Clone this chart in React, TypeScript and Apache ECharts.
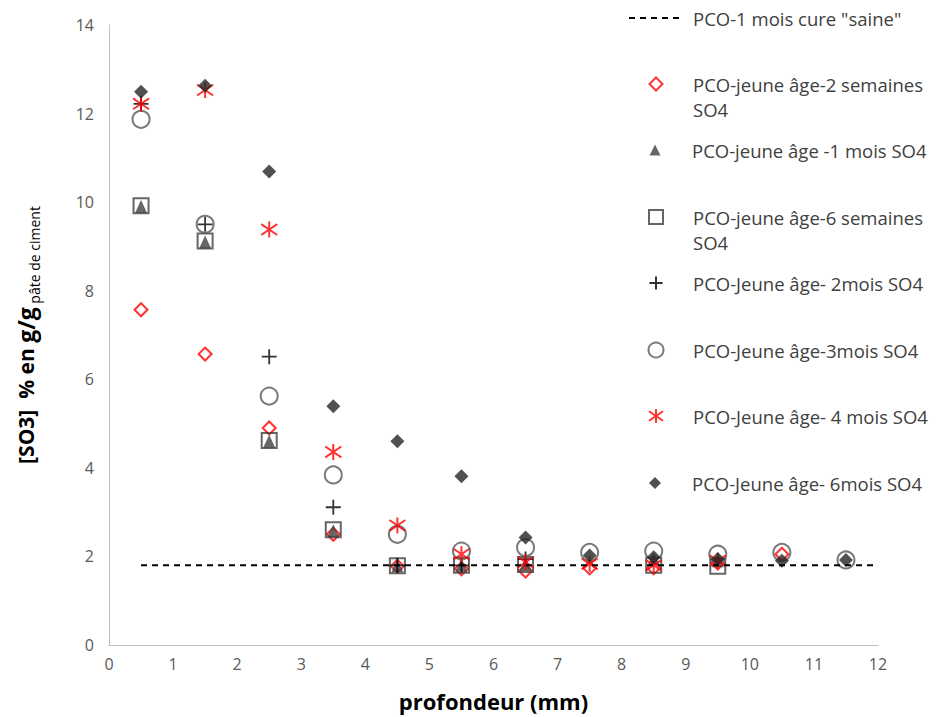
import React, { useEffect, useRef } from "react";
import * as echarts from "echarts";

const depth = [0.5, 1.5, 2.5, 3.5, 4.5, 5.5, 6.5, 7.5, 8.5, 9.5, 10.5, 11.5];
const sainX = [0.5, 12];
const sainY = 1.8;
const s2sem = [7.57, 6.57, 4.9, 2.5, 1.78, 1.72, 1.67, 1.74, 1.74, 1.85, 2.05, null];
const s1mois = [9.9, 9.1, 4.6, 2.58, 1.79, 1.8, 1.82, null, 1.95, 1.9, null, null];
const s6sem = [9.92, 9.12, 4.62, 2.6, 1.79, 1.8, 1.82, null, 1.8, 1.78, null, null];
const s2mois = [12.22, 9.5, 6.51, 3.11, 1.8, 1.8, 1.94, null, null, null, null, null];
const s3mois = [11.87, 9.5, 5.62, 3.84, 2.5, 2.12, 2.2, 2.09, 2.12, 2.05, 2.09, 1.92];
const s4mois = [12.22, 12.53, 9.38, 4.36, 2.7, 2.05, 1.87, 1.83, 1.8, 1.9, null, null];
const s6mois = [12.49, 12.63, 10.69, 5.39, 4.6, 3.81, 2.43, 2.02, 1.98, 1.94, 1.9, 1.92];

const names = [
  'PCO-1 mois cure "saine"',
  "PCO-jeune âge-2 semaines SO4",
  "PCO-jeune âge -1 mois SO4",
  "PCO-jeune âge-6 semaines SO4",
  "PCO-Jeune âge- 2mois SO4",
  "PCO-Jeune âge-3mois SO4",
  "PCO-Jeune âge- 4 mois SO4",
  "PCO-Jeune âge- 6mois SO4",
];

const FONT = "Open Sans";
const LFS = 18.5;
const PLUS = "path://M0,5 L10,5 M5,0 L5,10";
const AST = "path://M5,0 L5,10 M0,1.6 L10,8.4 M0,8.4 L10,1.6";

function pts(vals: (number | null)[]) {
  return depth
    .map((d, i) => (vals[i] == null ? null : [d, vals[i]]))
    .filter((p) => p !== null);
}

export default function App() {
  const ref = useRef<HTMLDivElement>(null);
  useEffect(() => {
    const chart = echarts.init(ref.current!, undefined, { renderer: "svg" });

    const iconCy = [18, 84, 150, 217, 283, 350, 416, 483];
    const iconSize = [14, 13, 11, 14, 13, 15, 14, 12];
    const twoLine = [false, true, false, true, false, false, false, false];
    const iconCx = 655;
    const textX = 692;

    const tok = { fontFamily: FONT, fontSize: LFS, color: "#404040", lineHeight: 25 };

    const legends = names.map((n, i) => {
      const isLine = i === 0;
      const w = isLine ? 52 : iconSize[i];
      const h = iconSize[i];
      const left = isLine ? 628 : iconCx - w / 2;
      const padL = textX - (left + w + 5);
      const top = iconCy[i] - (twoLine[i] ? 37.5 : 12.5);
      return {
        orient: "vertical",
        left,
        top,
        padding: 0,
        itemWidth: w,
        itemHeight: h,
        data: [n],
        selectedMode: false,
        ...(isLine ? { itemStyle: { opacity: 0, color: "rgba(0,0,0,0)" } } : {}),
        formatter: (name: string) =>
          twoLine[i]
            ? "{n| }\n{n|" + name.replace(/ SO4$/, "") + "}\n{n|SO4}"
            : "{n|" + name + "}",
        textStyle: {
          ...tok,
          padding: [0, 0, 0, padL],
          rich: {
            n: { ...tok },
          },
        },
      };
    });

    const openStyle = (c: string, w = 2) => ({
      color: "rgba(0,0,0,0)",
      borderColor: c,
      borderWidth: w,
    });

    chart.setOption({
      animation: false,
      backgroundColor: "#fff",
      grid: { left: 109, right: 64, top: 25, bottom: 71 },
      legend: legends,
      xAxis: {
        type: "value",
        min: 0,
        max: 12,
        interval: 1,
        name: "profondeur (mm)",
        nameLocation: "middle",
        nameGap: 45,
        nameTextStyle: { fontFamily: FONT, fontSize: 22, fontWeight: "bold", color: "#000" },
        axisLine: { show: true, lineStyle: { color: "#BFBFBF", width: 1 } },
        axisTick: { show: false },
        splitLine: { show: false },
        axisLabel: { fontFamily: FONT, fontSize: 16, color: "#595959", margin: 11 },
      },
      yAxis: {
        type: "value",
        min: 0,
        max: 14,
        interval: 2,
        name: "{a|[SO3]  % en }{b|g/g}{c| pâte de ciment}",
        nameLocation: "middle",
        nameGap: 68,
        nameTextStyle: {
          rich: {
            a: { fontFamily: FONT, fontSize: 21, fontWeight: "bold", color: "#000", lineHeight: 30 },
            b: { fontFamily: FONT, fontSize: 23, fontWeight: "bold", color: "#000", lineHeight: 30 },
            c: { fontFamily: FONT, fontSize: 14, color: "#000", lineHeight: 15, verticalAlign: "bottom" },
          },
        },
        axisLine: { show: true, lineStyle: { color: "#BFBFBF", width: 1 } },
        axisTick: { show: false },
        splitLine: { show: false },
        axisLabel: { fontFamily: FONT, fontSize: 16, color: "#595959", margin: 15 },
      },
      series: [
        {
          name: names[0],
          type: "line",
          data: sainX.map((x) => [x, sainY]),
          symbol: "none",
          showSymbol: false,
          lineStyle: { color: "#000", width: 2, type: [6, 5] },
          itemStyle: { color: "#000" },
        },
        {
          name: names[1],
          type: "scatter",
          data: pts(s2sem),
          symbol: "diamond",
          symbolSize: 13,
          itemStyle: openStyle("#FF0000", 2),
        },
        {
          name: names[2],
          type: "scatter",
          data: pts(s1mois),
          symbol: "triangle",
          symbolSize: [12, 13],
          itemStyle: { color: "#404040" },
        },
        {
          name: names[3],
          type: "scatter",
          data: pts(s6sem),
          symbol: "rect",
          symbolSize: 15,
          itemStyle: openStyle("#404040", 2),
        },
        {
          name: names[4],
          type: "scatter",
          data: pts(s2mois),
          symbol: PLUS,
          symbolSize: 15,
          itemStyle: openStyle("#000", 1.8),
        },
        {
          name: names[5],
          type: "scatter",
          data: pts(s3mois),
          symbol: "circle",
          symbolSize: 17,
          itemStyle: openStyle("#595959", 2),
        },
        {
          name: names[6],
          type: "scatter",
          data: pts(s4mois),
          symbol: AST,
          symbolSize: 16,
          itemStyle: openStyle("#FF0000", 2),
        },
        {
          name: names[7],
          type: "scatter",
          data: pts(s6mois),
          symbol: "diamond",
          symbolSize: 14,
          itemStyle: { color: "#262626" },
        },
      ],
    });
    return () => chart.dispose();
  }, []);
  return (
    <div
      ref={ref}
      style={{ position: "fixed", left: 0, top: 0, width: 942, height: 717 }}
    />
  );
}
